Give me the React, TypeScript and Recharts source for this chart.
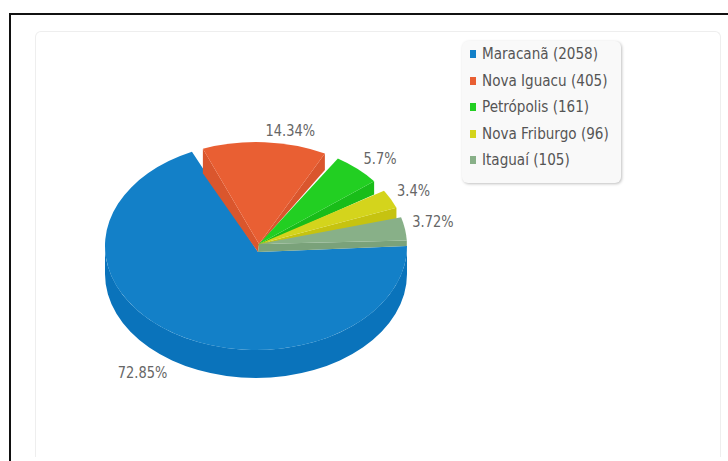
import { Pie, PieChart } from 'recharts';

const CITIES = ['Maracanã', 'Nova Iguacu', 'Petrópolis', 'Nova Friburgo', 'Itaguaí'];
const COUNTS = [2058, 405, 161, 96, 105];

const TOP_COLORS = ['#1380c8', '#e95f33', '#22cf22', '#d4d41c', '#88b088'];
const WALL_COLORS = ['#0a73bb', '#da562d', '#19bd19', '#c6c310', '#7aa27a'];

// degrees cut from each slice's rim, to open the gaps between exploded slices
const HIGH_TRIM = [0, 3, 0.5, 0.5, 1];
const LOW_TRIM = [1.5, 5.2, 6, 4.5, 3];
const LABEL_NUDGE = [
  [-6, 12],
  [-2, -12],
  [1, -14],
  [4, -12],
  [7, -9],
];

const data = CITIES.map((name, index) => ({
  name,
  value: COUNTS[index],
  fill: TOP_COLORS[index],
}));

const CX = 256;
const CY = 246;
const RX = 151;
const RY = 104;
const DEPTH = 28;
const FONT = '"DejaVu Sans Condensed", "DejaVu Sans", sans-serif';

// the source pie is tilted, so angles bunch up towards the front
const warp = (angle: number) => angle + 16 * Math.sin((angle * Math.PI) / 180);

const rim = (angle: number) => ({
  x: CX + RX * Math.cos((angle * Math.PI) / 180),
  y: CY - RY * Math.sin((angle * Math.PI) / 180),
});

// eslint-disable-next-line @typescript-eslint/no-explicit-any
function Slice3D({ startAngle, endAngle, index }: any) {
  const isMain = index === 0;
  const last = CITIES.length - 1;
  const from = warp(endAngle) + LOW_TRIM[index];
  const to = warp(startAngle) - HIGH_TRIM[index];
  const a = rim(from);
  const b = rim(to);
  const large = to - from > 180 ? 1 : 0;
  const apexBottom = { x: 258, y: 252 };
  const apexTop = isMain ? apexBottom : { x: 259, y: 244 };
  const top = `M${apexTop.x},${apexTop.y} L${b.x},${b.y} A${RX},${RY} 0 ${large} 1 ${a.x},${a.y} Z`;

  const wallAt = (p: { x: number; y: number }, angle: number, innerY: number) => {
    const h = 21 - 10 * Math.cos((angle * Math.PI) / 180);
    return `M${p.x},${p.y} L${p.x},${Math.min(p.y + h, CY)} L${apexBottom.x},${innerY} L${apexTop.x},${apexTop.y} Z`;
  };

  return (
    <g>
      {isMain && (
        <path
          d={`M${CX - RX},${CY} A${RX},${RY} 0 0 0 ${CX + RX},${CY} L${CX + RX},${CY + DEPTH} A${RX},${RY} 0 0 1 ${CX - RX},${CY + DEPTH} Z`}
          fill={WALL_COLORS[0]}
        />
      )}
      {!isMain && <path d={wallAt(a, from, index === last ? 252 : 246)} fill={WALL_COLORS[index]} />}
      {!isMain && b.x < CX && <path d={wallAt(b, to, 252)} fill={WALL_COLORS[index]} />}
      <path d={top} fill={TOP_COLORS[index]} />
    </g>
  );
}

// eslint-disable-next-line @typescript-eslint/no-explicit-any
function PercentLabel({ startAngle, endAngle, percent, index }: any) {
  const mid = (warp(startAngle) + warp(endAngle)) / 2;
  const p = rim(mid);
  const text = `${parseFloat((percent * 100).toFixed(2))}%`;
  const front = index === 0;
  const x = p.x + LABEL_NUDGE[index][0];
  const y = p.y + LABEL_NUDGE[index][1] + (front ? DEPTH : 0);
  return (
    <text
      transform={`translate(${x},${y}) scale(0.88,1)`}
      textAnchor={front ? 'end' : 'start'}
      dominantBaseline="central"
      fontFamily={FONT}
      fontSize={16.4}
      fill="#666666"
    >
      {text}
    </text>
  );
}

export default function App() {
  return (
    <div style={{ position: 'absolute', left: 0, top: 0, width: 728, height: 461, overflow: 'hidden', background: '#fff' }}>
      <div style={{ position: 'absolute', left: 9, top: 13, width: 719, height: 448, borderLeft: '2px solid #111', borderTop: '2px solid #111', boxSizing: 'border-box' }} />
      <div
        style={{
          position: 'absolute',
          left: 35,
          top: 31,
          width: 686,
          height: 426,
          border: '1px solid #eeeeee',
          borderBottom: 'none',
          borderRadius: '6px 6px 0 0',
          boxSizing: 'border-box',
        }}
      />
      <div style={{ position: 'absolute', left: 0, top: 0 }}>
        <PieChart width={728} height={461} margin={{ top: 0, right: 0, bottom: 0, left: 0 }}>
          <Pie
            data={data}
            dataKey="value"
            nameKey="name"
            cx={CX}
            cy={CY}
            outerRadius={RX}
            startAngle={360}
            endAngle={0}
            stroke="none"
            shape={Slice3D}
            label={PercentLabel}
            labelLine={false}
            isAnimationActive={false}
          />
        </PieChart>
      </div>
      <div
        style={{
          position: 'absolute',
          left: 462,
          top: 41,
          width: 159,
          height: 142,
          background: '#f9f9f9',
          borderRadius: 6,
          boxShadow: '1px 1px 3px rgba(0,0,0,0.25)',
          fontFamily: FONT,
          fontSize: 16.4,
          color: '#555555',
        }}
      >
        {CITIES.map((city, index) => (
          <div key={city} style={{ position: 'absolute', left: 8, top: 3 + index * 26.6, height: 20, lineHeight: '20px', whiteSpace: 'nowrap' }}>
            <span style={{ position: 'absolute', left: 0, top: 6, width: 6, height: 8, background: TOP_COLORS[index] }} />
            <span style={{ position: 'absolute', left: 12, top: 0, transform: 'scaleX(0.92)', transformOrigin: 'left center' }}>{`${city} (${COUNTS[index]})`}</span>
          </div>
        ))}
      </div>
    </div>
  );
}
